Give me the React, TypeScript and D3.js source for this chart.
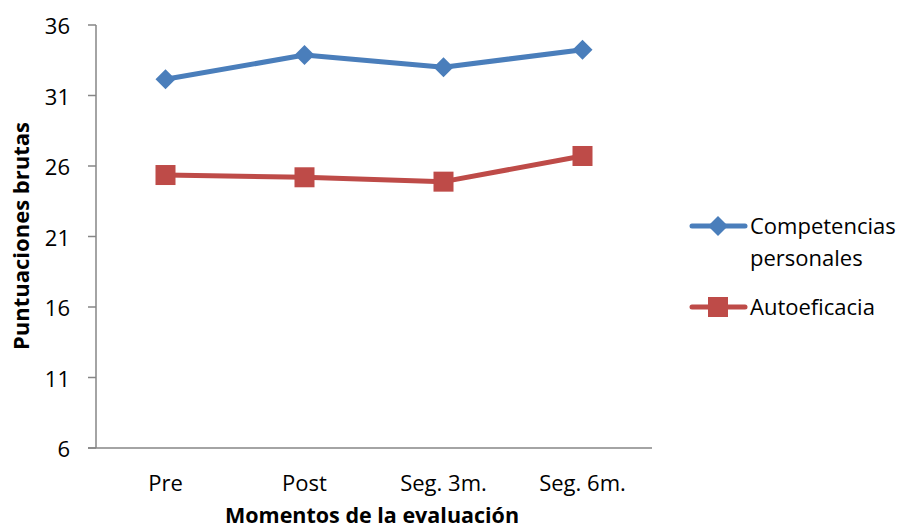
import React from "react";
import * as d3 from "d3";

const categories = ["Pre", "Post", "Seg. 3m.", "Seg. 6m."];
const competencias = [32.15, 33.87, 33.0, 34.25];
const autoeficacia = [25.36, 25.2, 24.89, 26.71];
const yTicks = [6, 11, 16, 21, 26, 31, 36];

const W = 905;
const H = 531;
const left = 96;
const right = 652;
const top = 25;
const bottom = 448;

const BLUE = "#4A7EBB";
const RED = "#BE4B48";
const AXIS = "#868686";
const FONT = "'Open Sans', Lato, sans-serif";

export default function App() {
  const x = d3.scaleBand<string>().domain(categories).range([left, right]);
  const y = d3.scaleLinear().domain([6, 36]).range([bottom, top]);
  const cx = (c: string) => (x(c) ?? 0) + x.bandwidth() / 2;

  const line = d3
    .line<number>()
    .x((_, i) => cx(categories[i]))
    .y((d) => y(d));

  const diamond = (px: number, py: number, r: number) =>
    `M${px},${py - r}L${px + r},${py}L${px},${py + r}L${px - r},${py}Z`;

  return (
    <svg
      width={W}
      height={H}
      style={{ position: "absolute", left: 0, top: 0, background: "#fff" }}
      fontFamily={FONT}
    >
      {/* axes */}
      <line x1={left} x2={left} y1={top} y2={bottom} stroke={AXIS} strokeWidth={1.5} />
      <line x1={left - 8} x2={right} y1={bottom} y2={bottom} stroke={AXIS} strokeWidth={1.5} />
      {yTicks.map((t) => (
        <g key={t}>
          <line x1={left - 8} x2={left} y1={y(t)} y2={y(t)} stroke={AXIS} strokeWidth={1.5} />
          <text
            x={left - 26}
            y={y(t)}
            textAnchor="end"
            dominantBaseline="central"
            fontSize={22}
            fill="#000"
          >
            {t}
          </text>
        </g>
      ))}
      {categories.map((c) => (
        <text key={c} x={cx(c)} y={482} textAnchor="middle" dominantBaseline="central" fontSize={22} fill="#000">
          {c}
        </text>
      ))}

      {/* axis titles */}
      <text x={372} y={514} textAnchor="middle" dominantBaseline="central" fontSize={21.5} fontWeight="bold" fill="#000">
        Momentos de la evaluación
      </text>
      <text
        transform={`translate(20,236) rotate(-90)`}
        textAnchor="middle"
        dominantBaseline="central"
        fontSize={22}
        fontWeight="bold"
        fill="#000"
      >
        Puntuaciones brutas
      </text>

      {/* series */}
      <path d={line(competencias) ?? ""} fill="none" stroke={BLUE} strokeWidth={5} strokeLinejoin="round" />
      {competencias.map((v, i) => (
        <path key={i} d={diamond(cx(categories[i]), y(v), 10)} fill={BLUE} />
      ))}
      <path d={line(autoeficacia) ?? ""} fill="none" stroke={RED} strokeWidth={5} strokeLinejoin="round" />
      {autoeficacia.map((v, i) => (
        <rect key={i} x={cx(categories[i]) - 10} y={y(v) - 10} width={20} height={20} fill={RED} />
      ))}

      {/* legend */}
      <line x1={692} x2={745} y1={226} y2={226} stroke={BLUE} strokeWidth={5} strokeLinecap="round" />
      <path d={diamond(718, 226, 10)} fill={BLUE} />
      <text x={750} y={225} dominantBaseline="central" fontSize={22} fill="#000">
        Competencias
      </text>
      <text x={750} y={257} dominantBaseline="central" fontSize={22} fill="#000">
        personales
      </text>
      <line x1={692} x2={745} y1={307} y2={307} stroke={RED} strokeWidth={5} strokeLinecap="round" />
      <rect x={708} y={297} width={20} height={20} fill={RED} />
      <text x={750} y={306} dominantBaseline="central" fontSize={22} fill="#000">
        Autoeficacia
      </text>
    </svg>
  );
}
